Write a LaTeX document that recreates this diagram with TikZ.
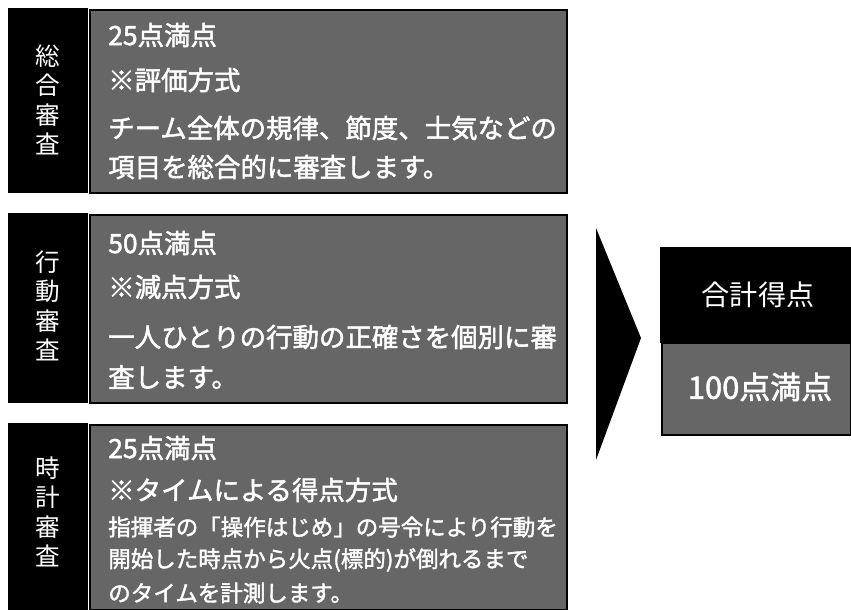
\documentclass[tikz,border=0pt]{standalone}
\usepackage{fontspec}
\newfontfamily\jp{Noto Sans CJK JP}
\newfontfamily\jpb[FakeBold=1.8]{Noto Sans CJK JP}
\newcommand\fsz[1]{\fontsize{#1}{#1}\selectfont}

\begin{document}
\begin{tikzpicture}[
    x=0.025cm, y=-0.025cm,
    every node/.style={text=white, inner sep=0pt},
    headbox/.style={fill=black},
    panelbox/.style={fill=black!60, draw=black, line width=1.2pt},
    ptext/.style={anchor=west, font=\jpb\fsz{18.8}},
    ttext/.style={anchor=west, font=\jpb\fsz{16}},
    vtext/.style={align=center, font=\jp\fontsize{17.5}{21}\selectfont}
]

\useasboundingbox (0,0) rectangle (851,610);

\def\Lx{8}
\def\Px{90}
\def\Rx{567}
\def\Tx{108}

% Sogo
\fill[headbox] (\Lx,8) rectangle (88,193);
\draw[panelbox] (\Px,10) rectangle (\Rx,193);
\node[vtext] (sogo) at (48,100) {総\\合\\審\\査};
\node[ptext] (sogoA) at (\Tx,35) {25点満点};
\node[ptext] (sogoB) at (\Tx,80) {※評価方式};
\node[ptext] (sogoC) at (\Tx,128) {チーム全体の規律、節度、士気などの};
\node[ptext] (sogoD) at (\Tx,167) {項目を総合的に審査します。};

% Kodo
\fill[headbox] (\Lx,213) rectangle (88,403);
\draw[panelbox] (\Px,215) rectangle (\Rx,403);
\node[vtext] (kodo) at (48,306) {行\\動\\審\\査};
\node[ptext] (kodoA) at (\Tx,243) {50点満点};
\node[ptext] (kodoB) at (\Tx,287) {※減点方式};
\node[ptext] (kodoC) at (\Tx,337) {一人ひとりの行動の正確さを個別に審};
\node[ptext] (kodoD) at (\Tx,377) {査します。};

% Tokei
\fill[headbox] (\Lx,423) rectangle (88,610);
\draw[panelbox] (\Px,425) rectangle (\Rx,610);
\node[vtext] (tokei) at (48,512) {時\\計\\審\\査};
\node[ptext] (tokeiA) at (\Tx,448) {25点満点};
\node[ptext] (tokeiB) at (\Tx,490) {※タイムによる得点方式};
\node[ttext] (tokeiC) at (\Tx,527) {指揮者の「操作はじめ」の号令により行動を};
\node[ttext] (tokeiD) at (\Tx,560) {開始した時点から火点(標的)が倒れるまで};
\node[ttext] (tokeiE) at (\Tx,593) {のタイムを計測します。};

% Arrow
\fill (596,228) -- (641,338) -- (596,460) -- cycle;

% Total
\fill[headbox] (660,247) rectangle (851,343);
\draw[panelbox] (662,343) rectangle (851,435);
\node[font=\jp\fsz{20}] (total) at (758,295) {合計得点};
\node[font=\jpb\fsz{22}] (totalA) at (760,387) {100点満点};

\end{tikzpicture}
\end{document}
